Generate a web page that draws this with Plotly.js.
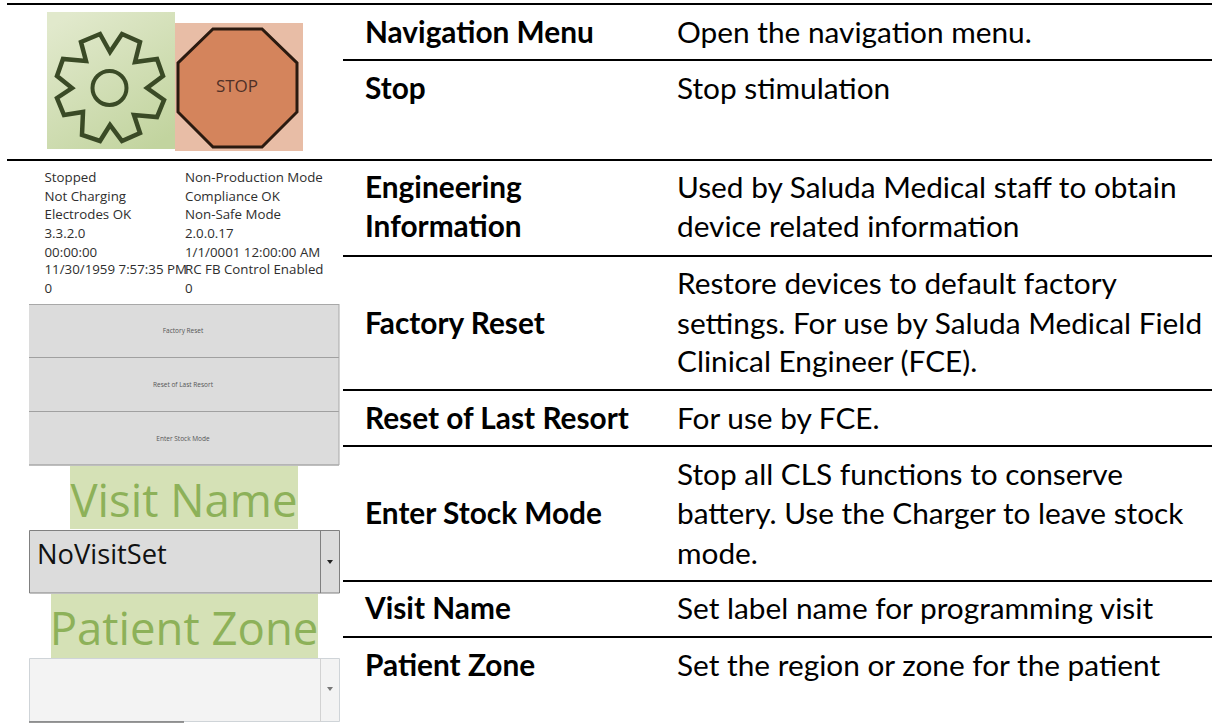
<!DOCTYPE html>
<html><head><meta charset="utf-8">
<script src="https://cdn.plot.ly/plotly-3.0.1.min.js"></script>
<style>html,body{margin:0;padding:0;background:#fff}#c{width:1212px;height:723px}</style>
</head><body><div id="c"></div>
<script>
// ---- table content ----
var featureNames = ["Navigation Menu","Stop","Engineering","Information","Factory Reset","Reset of Last Resort","Enter Stock Mode","Visit Name","Patient Zone"];
var descriptionLines = ["Open the navigation menu.","Stop stimulation","Used by Saluda Medical staff to obtain","device related information","Restore devices to default factory","settings. For use by Saluda Medical Field","Clinical Engineer (FCE).","For use by FCE.","Stop all CLS functions to conserve","battery. Use the Charger to leave stock","mode.","Set label name for programming visit","Set the region or zone for the patient"];
var statusLeft = ["Stopped","Not Charging","Electrodes OK","3.3.2.0","00:00:00","11/30/1959 7:57:35 PM","0"];
var statusRight = ["Non-Production Mode","Compliance OK","Non-Safe Mode","2.0.0.17","1/1/0001 12:00:00 AM","RC FB Control Enabled","0"];
var buttonLabels = ["Factory Reset","Reset of Last Resort","Enter Stock Mode"];
var sectionHeads = ["Visit Name","Patient Zone"];
var dropdownValues = ["NoVisitSet"];

// ---- layout constants (pixel grid of the page) ----
var featureY = [36,92,191,230,327,422,517,612,669];
var descY = [36,92,191,230,287,327,365,422,478,517,557,612,669];
var statusY = [179,198,216,235,254,271,290];
var buttonY = [331,385,439];
var headY = [506,634];
var FONT = "Lato, sans-serif", UI = "Open Sans, sans-serif";

function rep(v,n){return new Array(n).fill(v);}
function txt(x,y,t,size,color,pos,extra){
  return Object.assign({type:"scatter",mode:"text",x:Array.isArray(x)?x:rep(x,t.length),y:y,text:t,
    textposition:pos||"middle right",cliponaxis:false,hoverinfo:"skip",showlegend:false,
    textfont:Object.assign({family:FONT,size:size,color:color},extra||{})});
}
var traces = [
  txt(365,featureY,featureNames,29.8,"#000","middle right",{weight:700}),
  txt(677,descY,descriptionLines,29.8,"#000"),
  txt(44.5,statusY,statusLeft,13.3,"#2e2e2e","middle right",{family:UI}),
  txt(185,statusY,statusRight,13.3,"#2e2e2e","middle right",{family:UI}),
  txt(183,buttonY,buttonLabels,6.5,"#555","middle center",{family:UI}),
  txt(184,headY,sectionHeads,45.5,"#8db159","middle center",{family:UI}),
  txt(37,[557],dropdownValues,27.3,"#111","middle right",{family:UI}),
  txt(237,[88],["STOP"],17,"#4f3027","middle center",{family:UI})
];

function rect(x0,y0,x1,y1,fill,lc,lw){return {type:"rect",xref:"x",yref:"y",x0:x0,y0:y0,x1:x1,y1:y1,fillcolor:fill,line:{color:lc||fill,width:lw||0},layer:"below"};}
function rule(x0,y){return {type:"line",xref:"x",yref:"y",x0:x0,x1:1212,y0:y,y1:y,line:{color:"#000",width:2}};}
function thin(x0,y0,x1,y1,c,w){return {type:"line",xref:"x",yref:"y",x0:x0,x1:x1,y0:y0,y1:y1,line:{color:c,width:w||1},layer:"below"};}
function path(d,fill,lc,lw,layer){return {type:"path",path:d,xref:"x",yref:"y",fillcolor:fill,line:{color:lc,width:lw},layer:layer||"below"};}

var shapes = [
  rule(7,4),rule(343,60),rule(7,160),rule(343,256),rule(343,390),rule(343,446),rule(343,581),rule(343,637),
  rect(175,23,303,151,"#e8bda6"),
  path("M213,29 L262,29 L297,63 L297,112 L262,147 L213,147 L178,112 L178,63 Z","#d4845c","#2a1a10",3),
  path("M110,52 L100,34 L81,42 L86,61 L63,59 L57,76 L72,88 L57,98 L64,115 L83,112 L82,135 L100,141 L110,125 L122,141 L140,133 L134,115 L157,117 L164,100 L147,88 L163,76 L157,59 L135,62 L140,42 L122,34 Z","rgba(0,0,0,0)","#3a4a26",4.5,"above"),
  {type:"circle",xref:"x",yref:"y",x0:92.5,x1:126.5,y0:71,y1:105,fillcolor:"rgba(0,0,0,0)",line:{color:"#3a4a26",width:4},layer:"above"},
  rect(29,304,339,465,"#dcdcdc"),
  thin(29,304.5,339,304.5,"#a8a8a8"),thin(29,357.5,339,357.5,"#a0a0a0"),thin(29,411.5,339,411.5,"#a0a0a0"),thin(29,465,339,465,"#a8a8a8",1.5),thin(339,304,339,465,"#a8a8a8"),
  rect(70,466,298,529,"#d5e1b6"),
  rect(51,594,318,658,"#d5e1b6"),
  rect(29.5,530.5,339.5,593,"#dcdcdc","#808080",1),
  thin(320.5,530,320.5,593,"#808080"),
  path("M327,560 L333,560 L330,564 Z","#222","#222",0),
  rect(29.5,658.5,339.5,721.5,"#f3f3f3","#cfd4d8",1),
  thin(320.5,658,320.5,722,"#d2d2d2"),
  path("M327,687 L333,687 L330,691 Z","#777","#777",0),
  thin(29,722,184,722,"#777",1.5)
];

var grad = 'data:image/svg+xml;utf8,'+encodeURIComponent('<svg xmlns="http://www.w3.org/2000/svg" width="128" height="137"><defs><linearGradient id="g" x1="0.2" y1="0" x2="0.8" y2="1"><stop offset="0" stop-color="#e1e9cc"/><stop offset="1" stop-color="#c2d49f"/></linearGradient></defs><rect width="128" height="137" fill="url(#g)"/></svg>');

var layout = {
  width:1212,height:723,margin:{l:0,r:0,t:0,b:0},paper_bgcolor:"#fff",plot_bgcolor:"#fff",showlegend:false,
  xaxis:{range:[0,1212],visible:false,fixedrange:true},
  yaxis:{range:[723,0],visible:false,fixedrange:true},
  shapes:shapes,
  images:[{source:grad,xref:"x",yref:"y",x:47,y:12,sizex:128,sizey:137,sizing:"stretch",xanchor:"left",yanchor:"top",layer:"below"}]
};
Plotly.newPlot("c",traces,layout,{displayModeBar:false,staticPlot:true});
</script></body></html>
